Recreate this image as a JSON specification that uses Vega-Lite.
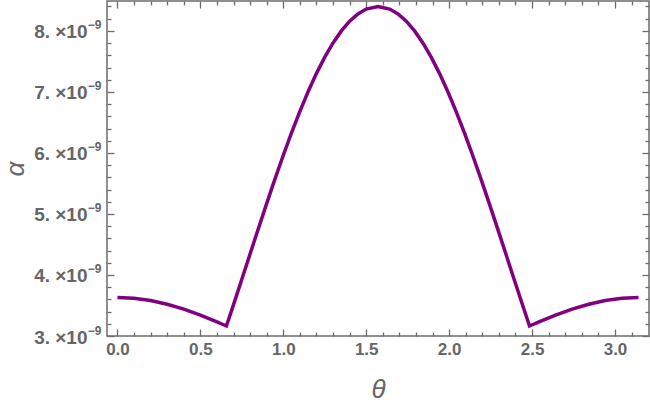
{
  "$schema": "https://vega.github.io/schema/vega-lite/v6.json",
  "width": 542,
  "height": 335,
  "padding": {"left": 107, "top": 1, "right": 1, "bottom": 67},
  "autosize": {"type": "none"},
  "config": {
    "view": {"stroke": "#6b6b6b", "strokeWidth": 1.5}
  },
  "data": {
    "values": [
      {"theta": 0.0, "alpha": 3.630e-9},
      {"theta": 0.1, "alpha": 3.6175e-9},
      {"theta": 0.2, "alpha": 3.5807e-9},
      {"theta": 0.3, "alpha": 3.5208e-9},
      {"theta": 0.4, "alpha": 3.4404e-9},
      {"theta": 0.5, "alpha": 3.3427e-9},
      {"theta": 0.6, "alpha": 3.2315e-9},
      {"theta": 0.657, "alpha": 3.164e-9},
      {"theta": 0.7, "alpha": 3.515e-9},
      {"theta": 0.75, "alpha": 3.930e-9},
      {"theta": 0.8, "alpha": 4.347e-9},
      {"theta": 0.85, "alpha": 4.763e-9},
      {"theta": 0.9, "alpha": 5.174e-9},
      {"theta": 0.95, "alpha": 5.575e-9},
      {"theta": 1.0, "alpha": 5.962e-9},
      {"theta": 1.05, "alpha": 6.333e-9},
      {"theta": 1.1, "alpha": 6.682e-9},
      {"theta": 1.15, "alpha": 7.007e-9},
      {"theta": 1.2, "alpha": 7.304e-9},
      {"theta": 1.25, "alpha": 7.570e-9},
      {"theta": 1.3, "alpha": 7.803e-9},
      {"theta": 1.35, "alpha": 8.000e-9},
      {"theta": 1.4, "alpha": 8.159e-9},
      {"theta": 1.45, "alpha": 8.279e-9},
      {"theta": 1.5, "alpha": 8.358e-9},
      {"theta": 1.5708, "alpha": 8.400e-9},
      {"theta": 1.6416, "alpha": 8.358e-9},
      {"theta": 1.6916, "alpha": 8.279e-9},
      {"theta": 1.7416, "alpha": 8.159e-9},
      {"theta": 1.7916, "alpha": 8.000e-9},
      {"theta": 1.8416, "alpha": 7.803e-9},
      {"theta": 1.8916, "alpha": 7.570e-9},
      {"theta": 1.9416, "alpha": 7.304e-9},
      {"theta": 1.9916, "alpha": 7.007e-9},
      {"theta": 2.0416, "alpha": 6.682e-9},
      {"theta": 2.0916, "alpha": 6.333e-9},
      {"theta": 2.1416, "alpha": 5.962e-9},
      {"theta": 2.1916, "alpha": 5.575e-9},
      {"theta": 2.2416, "alpha": 5.174e-9},
      {"theta": 2.2916, "alpha": 4.763e-9},
      {"theta": 2.3416, "alpha": 4.347e-9},
      {"theta": 2.3916, "alpha": 3.930e-9},
      {"theta": 2.4416, "alpha": 3.515e-9},
      {"theta": 2.4846, "alpha": 3.164e-9},
      {"theta": 2.5416, "alpha": 3.2315e-9},
      {"theta": 2.6416, "alpha": 3.3427e-9},
      {"theta": 2.7416, "alpha": 3.4404e-9},
      {"theta": 2.8416, "alpha": 3.5208e-9},
      {"theta": 2.9416, "alpha": 3.5807e-9},
      {"theta": 3.0416, "alpha": 3.6175e-9},
      {"theta": 3.1416, "alpha": 3.630e-9}
    ]
  },
  "layer": [
    {
      "mark": {"type": "line", "color": "#800080", "strokeWidth": 3.5},
      "encoding": {
        "x": {
          "field": "theta", "type": "quantitative",
          "scale": {"domain": [-0.063, 3.205], "nice": false, "zero": false},
          "axis": {
            "orient": "bottom",
            "domain": false, "grid": false,
            "tickColor": "#6b6b6b", "tickWidth": 1.3,
            "labelFont": "Liberation Sans", "labelFontWeight": "bold", "labelFontSize": 17, "labelColor": "#666666",
            "titleFont": "Liberation Sans", "titleFontStyle": "italic", "titleFontWeight": "normal", "titleFontSize": 26, "titleColor": "#666666",
            "title": "θ",
            "titlePadding": 16,
            "values": [0, 0.1, 0.2, 0.3, 0.4, 0.5, 0.6, 0.7, 0.8, 0.9, 1.0, 1.1, 1.2, 1.3, 1.4, 1.5, 1.6, 1.7, 1.8, 1.9, 2.0, 2.1, 2.2, 2.3, 2.4, 2.5, 2.6, 2.7, 2.8, 2.9, 3.0, 3.1],
            "labelExpr": "abs(datum.value*2 - round(datum.value*2)) < 1e-6 ? format(datum.value, '.1f') : ''",
            "tickSize": {"condition": {"test": "abs(datum.value*2 - round(datum.value*2)) < 1e-6", "value": -7}, "value": -4},
            "labelPadding": 12,
            "labelFlush": false,
            "labelOverlap": false
          }
        },
        "y": {
          "field": "alpha", "type": "quantitative",
          "scale": {"domain": [3.0e-9, 8.49e-9], "nice": false, "zero": false},
          "axis": {
            "orient": "left",
            "domain": false, "grid": false,
            "tickColor": "#6b6b6b", "tickWidth": 1.3,
            "labelFont": "Liberation Sans", "labelFontWeight": "bold", "labelFontSize": 19, "labelColor": "#666666",
            "titleFont": "Liberation Sans", "titleFontStyle": "italic", "titleFontWeight": "normal", "titleFontSize": 26, "titleColor": "#666666",
            "title": "α",
            "titlePadding": 5,
            "values": [3.0e-9, 3.2e-9, 3.4e-9, 3.6e-9, 3.8e-9, 4.0e-9, 4.2e-9, 4.4e-9, 4.6e-9, 4.8e-9, 5.0e-9, 5.2e-9, 5.4e-9, 5.6e-9, 5.8e-9, 6.0e-9, 6.2e-9, 6.4e-9, 6.6e-9, 6.8e-9, 7.0e-9, 7.2e-9, 7.4e-9, 7.6e-9, 7.8e-9, 8.0e-9, 8.2e-9, 8.4e-9],
            "labelExpr": "abs(datum.value*1e9 - round(datum.value*1e9)) < 1e-6 ? format(datum.value*1e9, 'd') + '. ×10' : ''",
            "tickSize": {"condition": {"test": "abs(datum.value*1e9 - round(datum.value*1e9)) < 1e-6", "value": -7}, "value": -4},
            "labelPadding": 27,
            "labelOffset": 1,
            "labelFlush": false,
            "labelOverlap": false
          }
        }
      }
    },
    {
      "mark": {"type": "line", "opacity": 0},
      "encoding": {
        "x": {
          "field": "theta", "type": "quantitative",
          "scale": {"domain": [-0.063, 3.205], "nice": false, "zero": false},
          "axis": {
            "orient": "top",
            "domain": false, "grid": false,
            "tickColor": "#6b6b6b", "tickWidth": 1.3,
            "title": null,
            "labels": false,
            "values": [0, 0.1, 0.2, 0.3, 0.4, 0.5, 0.6, 0.7, 0.8, 0.9, 1.0, 1.1, 1.2, 1.3, 1.4, 1.5, 1.6, 1.7, 1.8, 1.9, 2.0, 2.1, 2.2, 2.3, 2.4, 2.5, 2.6, 2.7, 2.8, 2.9, 3.0, 3.1],
            "tickSize": {"condition": {"test": "abs(datum.value*2 - round(datum.value*2)) < 1e-6", "value": -7}, "value": -4}
          }
        },
        "y": {
          "field": "alpha", "type": "quantitative",
          "scale": {"domain": [3.0e-9, 8.49e-9], "nice": false, "zero": false},
          "axis": {
            "orient": "right",
            "domain": false, "grid": false,
            "tickColor": "#6b6b6b", "tickWidth": 1.3,
            "title": null,
            "labels": false,
            "values": [3.0e-9, 3.2e-9, 3.4e-9, 3.6e-9, 3.8e-9, 4.0e-9, 4.2e-9, 4.4e-9, 4.6e-9, 4.8e-9, 5.0e-9, 5.2e-9, 5.4e-9, 5.6e-9, 5.8e-9, 6.0e-9, 6.2e-9, 6.4e-9, 6.6e-9, 6.8e-9, 7.0e-9, 7.2e-9, 7.4e-9, 7.6e-9, 7.8e-9, 8.0e-9, 8.2e-9, 8.4e-9],
            "tickSize": {"condition": {"test": "abs(datum.value*1e9 - round(datum.value*1e9)) < 1e-6", "value": -7}, "value": -4}
          }
        }
      }
    },
    {
      "mark": {"type": "line", "opacity": 0},
      "encoding": {
        "x": {
          "field": "theta", "type": "quantitative",
          "scale": {"domain": [-0.063, 3.205], "nice": false, "zero": false},
          "axis": null
        },
        "y": {
          "field": "alpha", "type": "quantitative",
          "scale": {"domain": [3.0e-9, 8.49e-9], "nice": false, "zero": false},
          "axis": {
            "orient": "left",
            "domain": false, "grid": false, "ticks": false,
            "title": null,
            "labelFont": "Liberation Sans", "labelFontWeight": "bold", "labelFontSize": 12, "labelColor": "#666666",
            "values": [3.0e-9, 4.0e-9, 5.0e-9, 6.0e-9, 7.0e-9, 8.0e-9],
            "labelExpr": "'−9'",
            "labelPadding": 6,
            "labelOffset": -6,
            "labelFlush": false,
            "labelOverlap": false
          }
        }
      }
    }
  ],
  "resolve": {"axis": {"x": "independent", "y": "independent"}}
}
